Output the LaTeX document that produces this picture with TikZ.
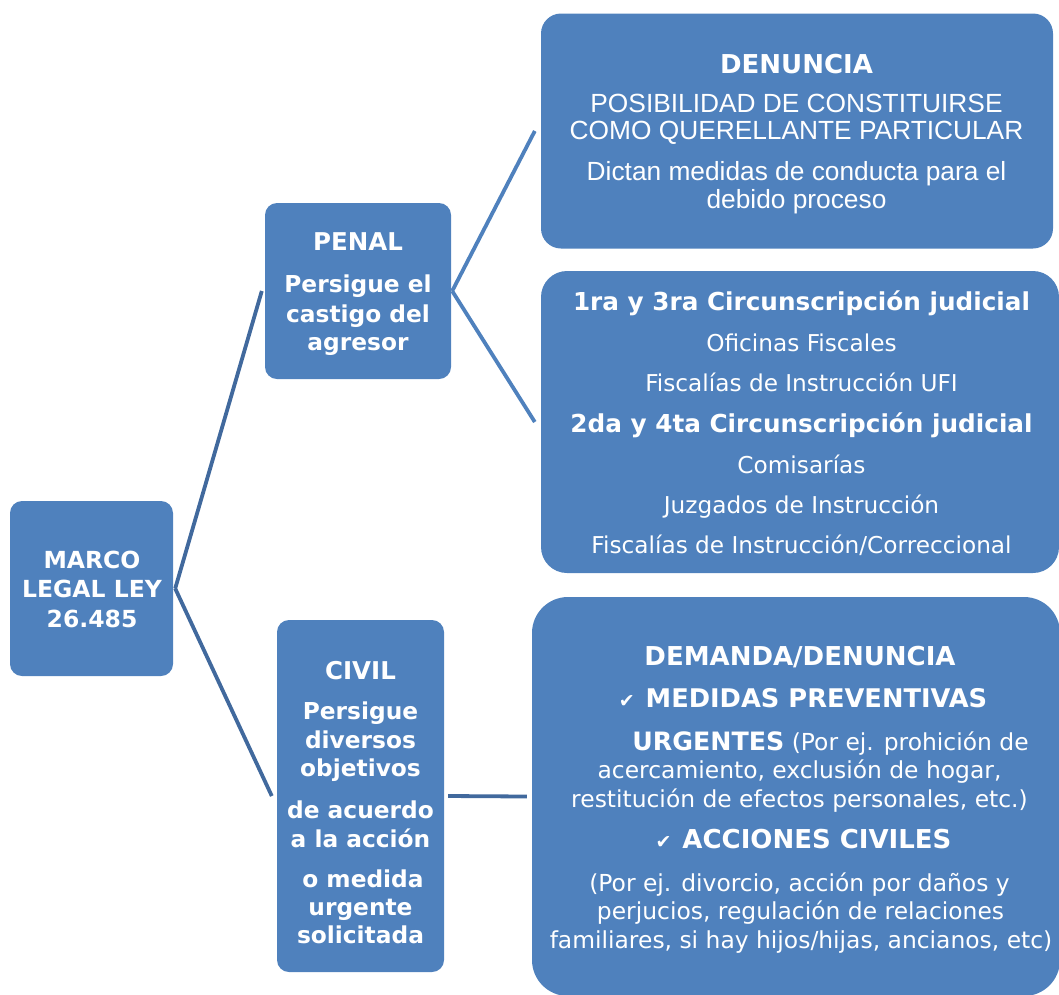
\documentclass[tikz,border=0pt]{standalone}
\usepackage{fontspec}
\setmainfont{DejaVu Sans}
\newfontfamily\arialfont{Liberation Sans}
\usepackage{xcolor}
\usetikzlibrary{positioning}
\definecolor{boxblue}{HTML}{4F81BD}
\definecolor{darkline}{HTML}{41699D}
\newcommand{\fsz}[1]{\fontsize{#1}{#1}\selectfont}
\newcommand{\chk}{{\mdseries\fsz{19}✔}\hspace{11pt}}

\begin{document}
\begin{tikzpicture}[x=1pt, y=-1pt,
        box/.style={fill=boxblue, rounded corners=#1, inner sep=0pt},
        box/.default=12pt,
        txt/.style={text=white, anchor=base, inner sep=0pt},
        ttl/.style={txt, font=\bfseries\fsz{#1}},
        reg/.style={txt, font=\fsz{#1}},
        arl/.style={txt, font=\arialfont\fsz{#1}},
        link/.style={draw=#1, line width=3.8pt}]
        \useasboundingbox (0,0) rectangle (1059,994);

        \node[box, minimum width=163pt, minimum height=175pt] (marco) at (91.5, 588.5) {};
        \node[box, minimum width=186pt, minimum height=176pt] (penal) at (358, 291) {};
        \node[box, minimum width=167pt, minimum height=352pt] (civil) at (360.5, 796) {};
        \node[box=20pt, minimum width=512pt, minimum height=235pt] (denuncia) at (797, 131) {};
        \node[box=26pt, minimum width=518pt, minimum height=302pt] (circ) at (800, 422) {};
        \node[box=36pt, minimum width=528pt, minimum height=399pt] (demanda) at (796, 796.5) {};

        % marco legal
        \node[ttl=23.5] (marco1) at (92, 568) {MARCO};
        \node[ttl=23.5] (marco2) at (92, 597) {LEGAL LEY};
        \node[ttl=23.5] (marco3) at (92, 627) {26.485};

        % penal
        \node[ttl=24.5] (penal1) at (358, 250) {PENAL};
        \node[ttl=23.3] (penal2) at (358, 292) {Persigue el};
        \node[ttl=23.3] (penal3) at (358, 322) {castigo del};
        \node[ttl=23.3] (penal4) at (358, 350) {agresor};

        % civil
        \node[ttl=24.5] (civil1) at (360.5, 679) {CIVIL};
        \node[ttl=23.3] (civil2) at (360.5, 719) {Persigue};
        \node[ttl=23.3] (civil3) at (360.5, 748) {diversos};
        \node[ttl=23.3] (civil4) at (360.5, 776) {objetivos};
        \node[ttl=23.3] (civil5) at (360.5, 818) {de acuerdo};
        \node[ttl=23.3] (civil6) at (360.5, 847) {a la acción};
        \node[ttl=23.3] (civil7) at (363, 887) {o medida};
        \node[ttl=23.3] (civil8) at (360.5, 915) {urgente};
        \node[ttl=23.3] (civil9) at (360.5, 943) {solicitada};

        % denuncia
        \node[ttl=26] (den1) at (796.5, 73) {DENUNCIA};
        \node[arl=26.3] (den2) at (796.5, 112) {POSIBILIDAD DE CONSTITUIRSE};
        \node[arl=26.3] (den3) at (796.5, 139) {COMO QUERELLANTE PARTICULAR};
        \node[arl=26.3] (den4) at (796.5, 180) {Dictan medidas de conducta para el};
        \node[arl=26.3] (den5) at (796.5, 208) {debido proceso};

        % circunscripciones
        \node[ttl=24.7] (circ1) at (801.5, 310) {1ra y 3ra Circunscripción judicial};
        \node[reg=23.2] (circ2) at (801.5, 351) {Oficinas Fiscales};
        \node[reg=23.2] (circ3) at (801.5, 391) {Fiscalías de Instrucción UFI};
        \node[ttl=24.7] (circ4) at (801.5, 432) {2da y 4ta Circunscripción judicial};
        \node[reg=23.2] (circ5) at (801.5, 473) {Comisarías};
        \node[reg=23.2] (circ6) at (801.5, 513) {Juzgados de Instrucción};
        \node[reg=23.2] (circ7) at (801.5, 553) {Fiscalías de Instrucción/Correccional};

        % demanda
        \node[ttl=26] (dem1) at (800, 665) {DEMANDA/DENUNCIA};
        \node[ttl=25.7] (dem2) at (803, 707) {\chk MEDIDAS PREVENTIVAS};
        \node[reg=23.4] (dem3) at (830.5, 750) {{\bfseries\fsz{25.3}URGENTES} (Por ej. prohición de};
        \node[reg=23.4] (dem4) at (799.5, 778) {acercamiento, exclusión de hogar,};
        \node[reg=23.4] (dem5) at (799.5, 807) {restitución de efectos personales, etc.)};
        \node[ttl=26] (dem6) at (803.5, 848) {\chk ACCIONES CIVILES};
        \node[reg=23.4] (dem7) at (799.5, 891) {(Por ej. divorcio, acción por daños y};
        \node[reg=23.4] (dem8) at (800.5, 919) {perjucios, regulación de relaciones};
        \node[reg=23.4] (dem9) at (801, 948) {familiares, si hay hijos/hijas, ancianos, etc)};

        \draw[link=darkline] ([xshift=2pt]marco.east) to ([xshift=-3pt]penal.west)
            ([xshift=2pt]marco.east) to ([xshift=-5pt]civil.west);
        \draw[link=boxblue] ([xshift=1pt]penal.east) to ([xshift=-6pt]denuncia.west)
            ([xshift=1pt]penal.east) to ([xshift=-6pt]circ.west);
        \draw[link=darkline] ([xshift=4pt]civil.east) to ([xshift=-5pt]demanda.west);
    \end{tikzpicture}
\end{document}
